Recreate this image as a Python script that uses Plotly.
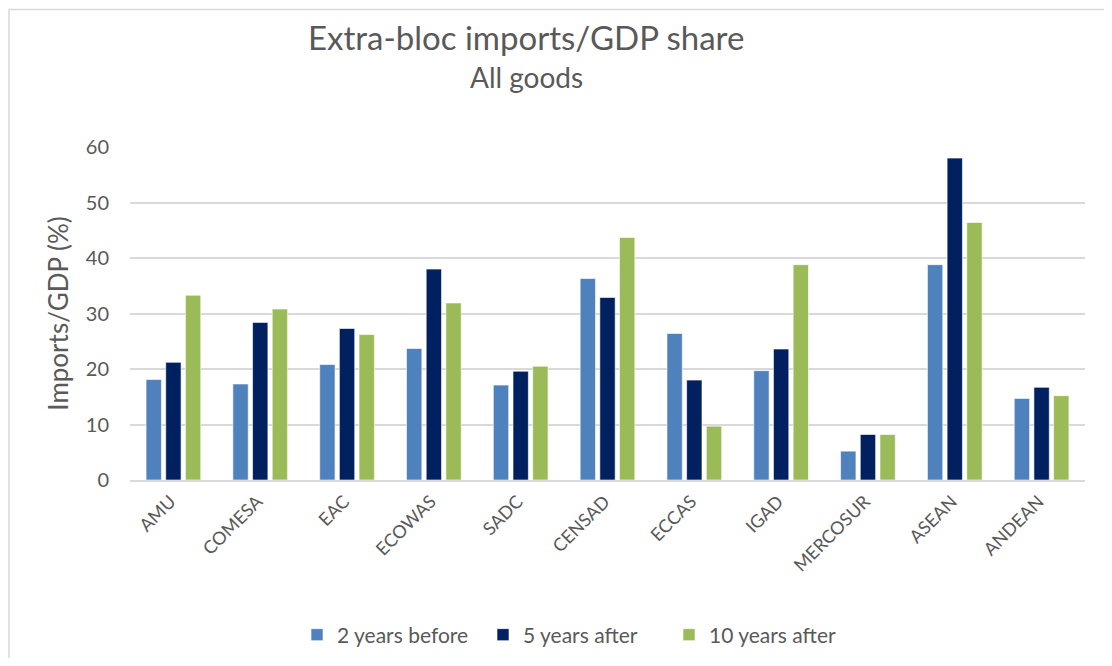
import plotly.graph_objects as go

categories = ["AMU", "COMESA", "EAC", "ECOWAS", "SADC", "CENSAD", "ECCAS", "IGAD", "MERCOSUR", "ASEAN", "ANDEAN"]
before_2y = [18.1, 17.3, 20.8, 23.7, 17.1, 36.3, 26.4, 19.7, 5.2, 38.8, 14.7]
after_5y = [21.2, 28.4, 27.3, 38.0, 19.6, 32.9, 18.0, 23.6, 8.2, 58.0, 16.7]
after_10y = [33.3, 30.8, 26.2, 31.9, 20.5, 43.7, 9.7, 38.8, 8.2, 46.4, 15.2]
series_names = ["2 years before", "5 years after", "10 years after"]
colors = ["#4F81BD", "#002060", "#9BBB59"]

# page body has an 8px margin; figure coordinates are reference pixels minus 8
OFF = 8
W, H = 1096, 650
L, T = 130 - OFF, 147 - OFF
PR, PB = 1085 - OFF, 480 - OFF
R, B = W - PR, H - PB
pw, ph = PR - L, PB - T

def px_x(x):
    return (x - OFF - L) / pw

def px_y(y):
    return (PB - (y - OFF)) / ph

fig = go.Figure()
for name, vals, col in zip(series_names, [before_2y, after_5y, after_10y], colors):
    fig.add_trace(go.Bar(
        x=categories, y=vals, name=name,
        marker=dict(color=col, line=dict(color="rgba(255,255,255,0.6)", width=1)),
    ))

font_family = "Lato, 'Open Sans', sans-serif"
fig.update_layout(
    width=W, height=H,
    margin=dict(l=L, r=R, t=T, b=B, autoexpand=False),
    paper_bgcolor="white", plot_bgcolor="white",
    barmode="group", bargap=0.32, bargroupgap=0.22,
    font=dict(family=font_family, color="#595959", size=16),
    showlegend=True,
    legend=dict(orientation="h", x=px_x(576), xanchor="center", y=px_y(635), yanchor="middle",
                font=dict(size=21, color="#595959"), traceorder="normal",
                entrywidth=141, entrywidthmode="pixels"),
    xaxis=dict(showgrid=False, showline=True, linecolor="#D9D9D9", linewidth=2,
               tickangle=-45, tickfont=dict(size=18, color="#595959"), ticks="",
               ticklabelstandoff=2, ticklabelshift=-3),
    yaxis=dict(range=[0, 60], dtick=10, showgrid=True, gridcolor="#D9D9D9", gridwidth=1.5,
               zeroline=False, showline=False, ticks="",
               tickfont=dict(size=20, color="#595959"), ticklabelstandoff=20,
               title=dict(text="Imports/GDP (%)", font=dict(size=26, color="#595959"), standoff=9)),
    annotations=[
        dict(text="Extra-bloc imports/GDP share", x=px_x(526), y=px_y(37), xref="paper", yref="paper",
             showarrow=False, xanchor="center", yanchor="middle",
             font=dict(size=33, color="#595959", family=font_family)),
        dict(text="All goods", x=px_x(526), y=px_y(77), xref="paper", yref="paper",
             showarrow=False, xanchor="center", yanchor="middle",
             font=dict(size=28, color="#595959", family=font_family)),
    ],
    shapes=[
        dict(type="rect", xref="paper", yref="paper",
             x0=px_x(9), x1=px_x(1140), y0=px_y(700), y1=px_y(9.5),
             line=dict(color="#D9D9D9", width=1.5), fillcolor="rgba(0,0,0,0)", layer="below"),
    ],
)

fig.write_html("out.html")
